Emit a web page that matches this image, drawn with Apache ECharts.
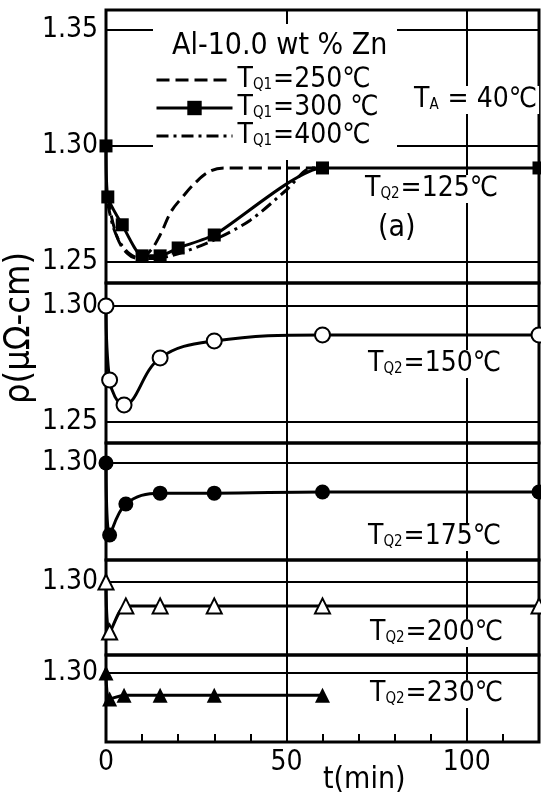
<!DOCTYPE html>
<html>
<head>
<meta charset="utf-8">
<script src="https://cdn.jsdelivr.net/npm/echarts@6/dist/echarts.min.js"></script>
<style>
  html, body { margin: 0; background: #fff; }
  #chart { width: 541px; height: 799px; }
</style>
</head>
<body>
<div id="chart"></div>
<script>
// panel (a): TQ2 = 125 C, three quench temperatures TQ1
var t250 = [0.5, 3, 6, 9, 12, 15, 18, 21, 25, 29, 33, 60];
var v250 = [1.278, 1.261, 1.2535, 1.2515, 1.2543, 1.2616, 1.2716, 1.2776, 1.2845, 1.2892, 1.2905, 1.2905];
var t300 = [0, 0.5, 4.5, 10, 15, 20, 30, 60, 120];
var v300 = [1.300, 1.278, 1.266, 1.2526, 1.2526, 1.256, 1.2616, 1.2905, 1.2905];
var t400 = [0.5, 2, 4, 6.5, 9, 13, 20, 30, 40, 50, 57, 60];
var v400 = [1.275, 1.265, 1.258, 1.2535, 1.2517, 1.2515, 1.2535, 1.2595, 1.268, 1.281, 1.2905, 1.2905];
// panels (b)-(e): TQ2 = 150, 175, 200, 230 C
var t150 = [0, 1, 5, 15, 30, 60, 120];
var v150 = [1.300, 1.2681, 1.2573, 1.2776, 1.2849, 1.2875, 1.2875];
var t175 = [0, 1, 5.5, 15, 30, 60, 120];
var v175 = [1.300, 1.269, 1.2823, 1.287, 1.287, 1.2875, 1.2875];
var t200 = [0, 1, 5.5, 15, 30, 60, 120];
var v200 = [1.300, 1.2784, 1.2897, 1.2897, 1.2897, 1.2897, 1.2897];
var t230 = [0, 1, 5, 15, 30, 60];
var v230 = [1.300, 1.2888, 1.2905, 1.2905, 1.2905, 1.2905];
// tick labels
var yTicksA = [1.25, 1.30, 1.35];
var yTicksB = [1.25, 1.30];
var yTicksC = [1.30];
var yTicksD = [1.30];
var yTicksE = [1.30];
var xTicks = [0, 50, 100];

var FONT = "'Liberation Sans Narrow','DejaVu Sans Condensed','Noto Sans',sans-serif";

function pairs(xs, ys) {
  return xs.map(function (x, i) { return [x, ys[i]]; });
}

var chart = echarts.init(document.getElementById('chart'));

var panels = [
  { top: 10,  height: 273, min: 1.2409, max: 1.3586, ticks: yTicksA },
  { top: 283, height: 160, min: 1.2409, max: 1.3099, ticks: yTicksB },
  { top: 443, height: 117, min: 1.2582, max: 1.3086, ticks: yTicksC },
  { top: 560, height: 95,  min: 1.2685, max: 1.3095, ticks: yTicksD },
  { top: 655, height: 87,  min: 1.2703, max: 1.3078, ticks: yTicksE }
];

var grids = [], xAxes = [], yAxes = [];
panels.forEach(function (p, i) {
  var last = i === panels.length - 1;
  grids.push({
    left: 106, right: 2, top: p.top, height: p.height,
    show: true, borderColor: '#000', borderWidth: 3
  });
  xAxes.push({
    gridIndex: i, type: 'value', min: 0, max: 120, interval: 50,
    axisLine: { show: false },
    axisTick: { show: last, inside: true, length: 8, lineStyle: { color: '#000', width: 2 } },
    minorTick: { show: last, splitNumber: 5, length: 8, lineStyle: { color: '#000', width: 2 } },
    axisLabel: {
      show: last, color: '#000', fontSize: 28, fontFamily: FONT, margin: 7,
      customValues: xTicks
    },
    splitLine: { show: true, lineStyle: { color: '#000', width: 2 } }
  });
  yAxes.push({
    gridIndex: i, type: 'value', min: p.min, max: p.max,
    axisLine: { show: false },
    axisTick: { show: false, customValues: p.ticks },
    axisLabel: {
      color: '#000', fontSize: 28, fontFamily: FONT, margin: 8,
      customValues: p.ticks,
      formatter: function (v) { return v.toFixed(2); }
    },
    splitLine: { show: true, lineStyle: { color: '#000', width: 2 } }
  });
});

var blackLine = { color: '#000', width: 3 };
var noMark = { color: 'rgba(0,0,0,0)', borderWidth: 0 };

var series = [
  {
    name: 'T250', type: 'line', xAxisIndex: 0, yAxisIndex: 0,
    data: pairs(t250, v250), smooth: 0.4, symbol: 'none',
    lineStyle: { color: '#000', width: 3, type: [13, 6] },
    itemStyle: noMark, z: 3
  },
  {
    name: 'T300', type: 'line', xAxisIndex: 0, yAxisIndex: 0,
    data: pairs(t300, v300), smooth: 0.2, symbol: 'rect', symbolSize: 13,
    lineStyle: blackLine, itemStyle: { color: '#000' }, z: 4
  },
  {
    name: 'T400', type: 'line', xAxisIndex: 0, yAxisIndex: 0,
    data: pairs(t400, v400), smooth: 0.3, symbol: 'none',
    lineStyle: { color: '#000', width: 3, type: [12, 5, 3, 5] },
    itemStyle: noMark, z: 3
  },
  {
    name: 'T150', type: 'line', xAxisIndex: 1, yAxisIndex: 1,
    data: pairs(t150, v150), smooth: 0.4, symbol: 'circle', symbolSize: 15,
    lineStyle: blackLine, itemStyle: { color: '#fff', borderColor: '#000', borderWidth: 2 }, z: 4
  },
  {
    name: 'T175', type: 'line', xAxisIndex: 2, yAxisIndex: 2,
    data: pairs(t175, v175), smooth: 0.4, symbol: 'circle', symbolSize: 15,
    lineStyle: blackLine, itemStyle: { color: '#000' }, z: 4
  },
  {
    name: 'T200', type: 'line', xAxisIndex: 3, yAxisIndex: 3,
    data: pairs(t200, v200), smooth: 0.3, symbol: 'triangle', symbolSize: 15,
    lineStyle: blackLine, itemStyle: { color: '#fff', borderColor: '#000', borderWidth: 2 }, z: 4
  },
  {
    name: 'T230', type: 'line', xAxisIndex: 4, yAxisIndex: 4,
    data: pairs(t230, v230), smooth: 0.3, symbol: 'triangle', symbolSize: 15,
    lineStyle: blackLine, itemStyle: { color: '#000' }, z: 4
  }
];

var legendText = { T250: '=250℃', T300: '=300 ℃', T400: '=400℃' };

var richT = {
  t: { fontSize: 28, fontFamily: FONT, color: '#000' },
  s: { fontSize: 15, fontFamily: FONT, color: '#000', verticalAlign: 'bottom', padding: [0, 1, 1, 0] }
};

function label(x, y, text) {
  return {
    type: 'text', left: x, top: y, z: 10,
    style: {
      text: text, rich: richT, fill: '#000', font: '28px ' + FONT,
      backgroundColor: '#fff', padding: [0, 2, 0, 2]
    }
  };
}

chart.setOption({
  animation: false,
  backgroundColor: '#fff',
  grid: grids,
  xAxis: xAxes,
  yAxis: yAxes,
  legend: {
    data: ['T250', 'T300', 'T400'],
    orient: 'vertical', left: 155, top: 66,
    itemWidth: 76, itemHeight: 18, itemGap: 0, padding: 0,
    z: 8,
    lineStyle: { width: 3 },
    formatter: function (name) { return '{t|T}{s|Q1}{t|' + legendText[name] + '}'; },
    textStyle: { fontSize: 28, fontFamily: FONT, color: '#000', rich: richT }
  },
  graphic: [
    {
      type: 'rect', left: 153, top: 24, z: 6,
      shape: { width: 244, height: 136 },
      style: { fill: '#fff' }
    },
    {
      type: 'text', left: 172, top: 31, z: 10,
      style: { text: 'Al-10.0 wt % Zn', fill: '#000', font: '30px ' + FONT }
    },
    label(412, 86, '{t|T}{s|A}{t| = 40℃}'),
    label(363, 175, '{t|T}{s|Q2}{t|=125℃}'),
    {
      type: 'text', left: 376, top: 213, z: 10,
      style: { text: '(a)', fill: '#000', font: '30px ' + FONT, backgroundColor: '#fff', padding: [0, 2, 0, 2] }
    },
    label(366, 350, '{t|T}{s|Q2}{t|=150℃}'),
    label(366, 523, '{t|T}{s|Q2}{t|=175℃}'),
    label(368, 619, '{t|T}{s|Q2}{t|=200℃}'),
    label(368, 680, '{t|T}{s|Q2}{t|=230℃}'),
    {
      type: 'text', left: 323, top: 765, z: 10,
      style: { text: 't(min)', fill: '#000', font: '30px ' + FONT }
    },
    {
      type: 'text', x: 2, y: 404, rotation: Math.PI / 2, z: 10,
      style: { text: 'ρ(μΩ-cm)', fill: '#000', font: '36px ' + FONT }
    }
  ],
  series: series
});
</script>
</body>
</html>
